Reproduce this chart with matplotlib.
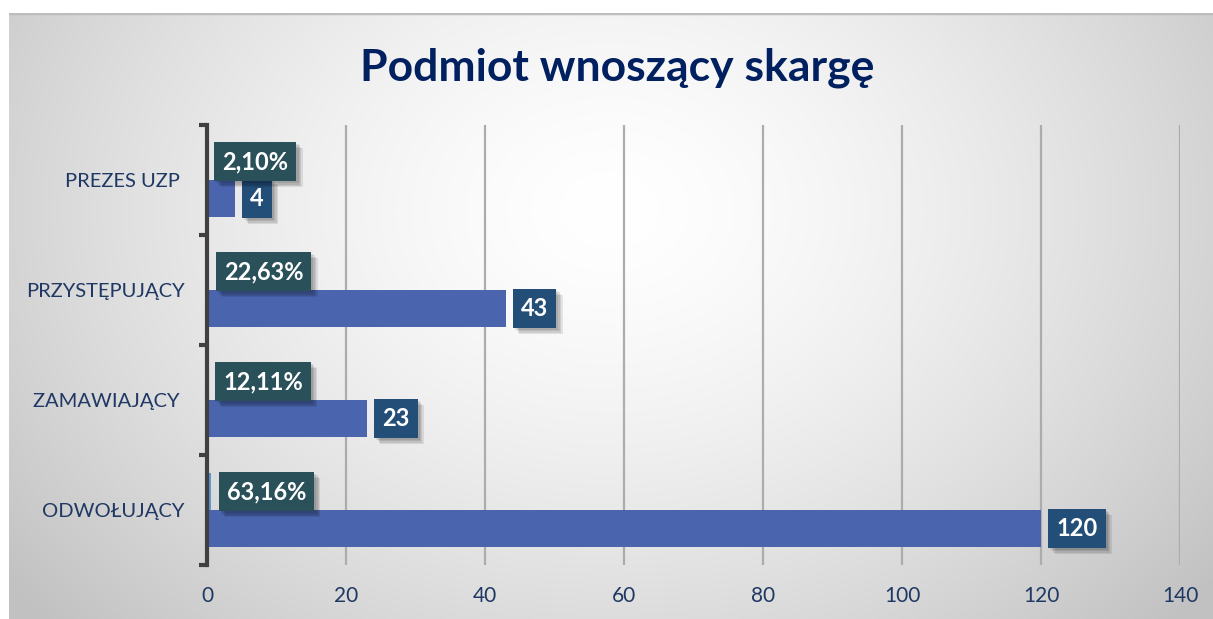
import numpy as np
import matplotlib
matplotlib.use("Agg")
import matplotlib.pyplot as plt
import matplotlib.patheffects as pe

categories = ["ODWOŁUJĄCY", "ZAMAWIAJĄCY ", "PRZYSTĘPUJĄCY", "PREZES UZP "]
counts = [120, 23, 43, 4]
shares = [0.6316, 0.1211, 0.2263, 0.0210]
share_labels = ["63,16%", "12,11%", "22,63%", "2,10%"]
xticks = [0, 20, 40, 60, 80, 100, 120, 140]
title = "Podmiot wnoszący skargę"

W, H = 1213, 619
fig = plt.figure(figsize=(W / 100, H / 100), dpi=100)
fig.patch.set_facecolor("white")

# background gradient panel
bg = fig.add_axes([9 / W, 0, 1 - 9 / W, (H - 13) / H])
bg.set_axis_off()
nx, ny = 600, 300
xx, yy = np.meshgrid(np.linspace(9, W, nx), np.linspace(13, H, ny))
cx, cy = 610, 210
d = np.sqrt(((xx - cx) / 640) ** 2 + ((yy - cy) / 500) ** 2)
v = 1 - 0.24 * np.clip(d, 0, 1.2) ** 1.5 / 1.2 ** 1.5
img = np.dstack([v, v, v])
bg.imshow(img, aspect="auto", extent=[0, 1, 0, 1], origin="upper")
bg.set_xlim(0, 1)
bg.set_ylim(0, 1)
bg.axhline(1, color="#bdbdbd", lw=2.5)

left, right = 207 / W, 1180 / W
top, bottom = 1 - 125 / H, 1 - 565 / H
ax = fig.add_axes([left, bottom, right - left, top - bottom])
ax.set_facecolor("none")

ys = np.arange(len(categories))
h = 0.336
ax.barh(ys - h / 2, counts, height=h, color="#4a65ae", zorder=3)
ax.barh(ys + h / 2, shares, height=h, color="#5b9bd5", zorder=3)

ax.set_xlim(0, 140)
ax.set_ylim(-0.5, len(categories) - 0.5)
ax.set_xticks(xticks)
ax.set_xticklabels([str(t) for t in xticks])
ax.grid(axis="x", color="#acacac", lw=1.6, zorder=0)
ax.set_axisbelow(True)

ax.set_yticks(np.arange(len(categories) + 1) - 0.5)
ax.set_yticklabels([])
ax.set_yticks(ys, minor=True)
ax.set_yticklabels(categories, minor=True)
ax.tick_params(axis="y", which="major", length=6, width=3, color="#404040", direction="out")
ax.tick_params(axis="y", which="minor", length=0, pad=16, labelsize=14.5, labelcolor="#1f3864")
ax.tick_params(axis="x", length=0, pad=15, labelsize=15, labelcolor="#1f3864")
for lab in ax.get_yticklabels(minor=True) + ax.get_xticklabels():
    lab.set_fontfamily("Lato")

for s in ["top", "right", "bottom"]:
    ax.spines[s].set_visible(False)
ax.spines["left"].set_color("#404040")
ax.spines["left"].set_linewidth(3)
ax.spines["left"].set_zorder(4)

shadow = [pe.SimplePatchShadow(offset=(o, -o), shadow_rgbFace="black", alpha=0.09)
          for o in (1.5, 2.5, 3.5, 4.5)] + [pe.Normal()]

def box_label(x, y, text, color):
    t = ax.annotate(text, xy=(x, y), xytext=(11, 0), textcoords="offset points",
                    ha="left", va="center", fontsize=17, fontweight="bold",
                    family="Lato", color="white", zorder=6,
                    bbox=dict(boxstyle="square,pad=0.34", fc=color, ec="none"))
    t.get_bbox_patch().set_path_effects(shadow)
    return t

for i in range(len(categories)):
    box_label(counts[i], ys[i] - h / 2, str(counts[i]), "#224e78")
    box_label(shares[i], ys[i] + h / 2, share_labels[i], "#2a5059")

fig.text(617 / W, 1 - 68 / H, title, ha="center", va="center", fontsize=32,
         fontweight="bold", family="Lato", color="#002060")

fig.savefig("out.png", dpi=100)
